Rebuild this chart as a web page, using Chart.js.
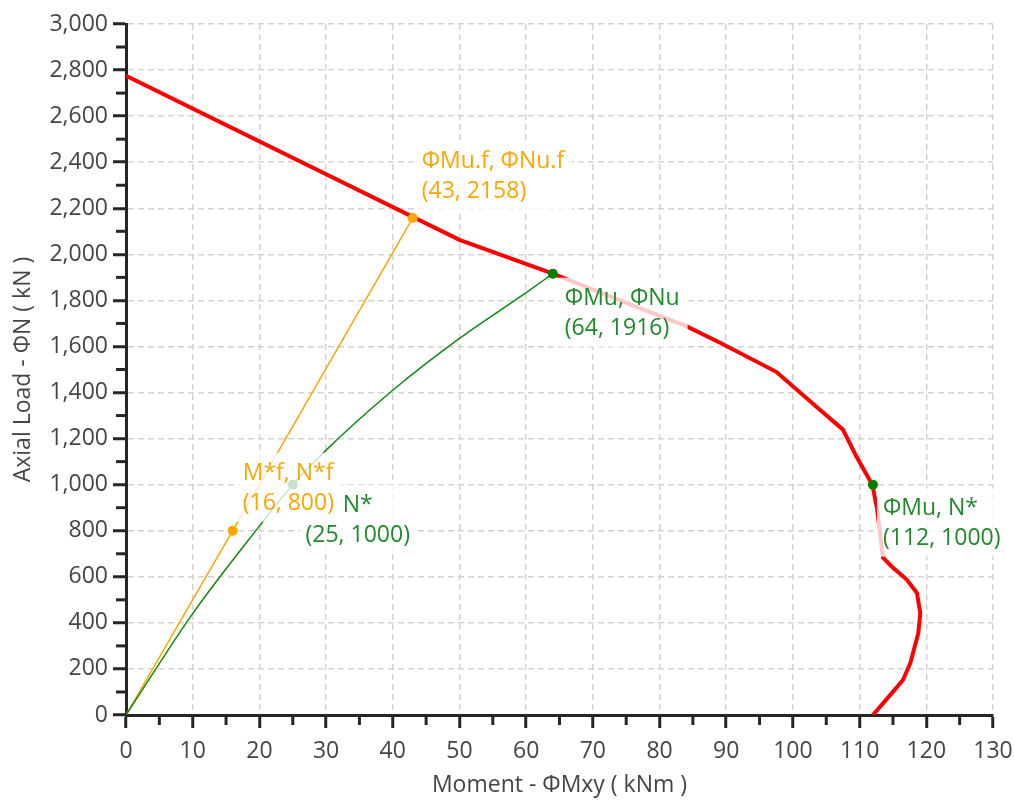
<!DOCTYPE html>
<html><head><meta charset="utf-8">
<script src="https://cdn.jsdelivr.net/npm/chart.js@4.4.1/dist/chart.umd.min.js"></script>
<style>html,body{margin:0;padding:0;background:#fff;}canvas{display:block;}</style>
</head><body>
<canvas id="c" width="1014" height="803"></canvas>
<script>
// Capacity (interaction) curve: moment (kNm) and axial load (kN)
const capacityM = [0, 50, 64, 77, 84, 89, 97.5, 104, 107.5, 109.5, 111.9, 112.6, 113.5, 114.8, 117.1, 118.6, 119.1, 118.8, 117.6, 116.5, 114.8, 112];
const capacityN = [2775, 2063, 1916, 1766, 1688, 1617, 1490, 1326, 1239, 1123, 1000, 899, 683, 645, 587, 529, 442, 355, 225, 152, 94, 0];
// Load path (green)
const loadPathM = [0, 10, 20, 25, 30, 40, 50, 60, 64];
const loadPathN = [0, 440, 820, 1000, 1150, 1410, 1635, 1834, 1916];
// Factored path (orange)
const factoredM = [0, 16, 43];
const factoredN = [0, 800, 2158];
// Marked points
const orangePtM = [16, 43];
const orangePtN = [800, 2158];
const greenPtM = [64, 112, 25];
const greenPtN = [1916, 1000, 1000];
// Annotations
const labelTexts = [['ΦMu.f, ΦNu.f', '(43, 2158)'], ['ΦMu, ΦNu', '(64, 1916)'], ['ΦMu, N*', '(112, 1000)'], ['M*f, N*f', '(16, 800)'], ['N*', '(25, 1000)']];
const labelM = [43, 64, 112, 16, 25];
const labelN = [2158, 1916, 1000, 800, 1000];
// Ticks
const xTickValues = [0, 10, 20, 30, 40, 50, 60, 70, 80, 90, 100, 110, 120, 130];
const yTickValues = [0, 200, 400, 600, 800, 1000, 1200, 1400, 1600, 1800, 2000, 2200, 2400, 2600, 2800, 3000];
const xMinorTicks = [5, 15, 25, 35, 45, 55, 65, 75, 85, 95, 105, 115, 125];
const yMinorTicks = [100, 300, 500, 700, 900, 1100, 1300, 1500, 1700, 1900, 2100, 2300, 2500, 2700, 2900];

const FONT = '"Open Sans", "Noto Sans", sans-serif';
const FS = 23;
const ORANGE = '#ffa500';
const GREEN = '#008000';
const GREEN_TXT = '#1f8a2a';
const AXIS = '#262626';
const TXT = '#454545';

const labelStyle = [
  {dx: 9, dy: -56, align: 'left', color: ORANGE},
  {dx: 12, dy: 25, align: 'left', color: GREEN_TXT},
  {dx: 10, dy: 24, align: 'left', color: GREEN_TXT},
  {dx: 10, dy: -57, align: 'left', color: ORANGE},
  {dx: 65, dy: 21, align: 'center', color: GREEN_TXT}
];

const toXY = (xs, ys) => xs.map((x, i) => ({x: x, y: ys[i]}));

const minorTicksPlugin = {
  id: 'minorTicks',
  afterDraw(chart) {
    const {ctx, scales: {x, y}} = chart;
    ctx.save();
    ctx.strokeStyle = AXIS;
    ctx.lineWidth = 3;
    xMinorTicks.forEach(v => {
      const p = x.getPixelForValue(v);
      ctx.beginPath(); ctx.moveTo(p, x.top); ctx.lineTo(p, x.top + 10); ctx.stroke();
    });
    yMinorTicks.forEach(v => {
      const p = y.getPixelForValue(v);
      ctx.beginPath(); ctx.moveTo(y.right, p); ctx.lineTo(y.right - 10, p); ctx.stroke();
    });
    ctx.restore();
  }
};

const labelPlugin = {
  id: 'pointLabels',
  afterDatasetsDraw(chart) {
    const {ctx, scales: {x, y}} = chart;
    ctx.save();
    ctx.font = FS + 'px ' + FONT;
    const LH = 30;
    const boxes = labelTexts.map((lines, i) => {
      const st = labelStyle[i];
      const px = x.getPixelForValue(labelM[i]);
      const py = y.getPixelForValue(labelN[i]);
      const w = Math.max(...lines.map(t => ctx.measureText(t).width));
      const left = st.align === 'left' ? px + st.dx : px + st.dx - w / 2;
      const c1 = py + st.dy;
      return {lines, st, px, py, w, left, c1};
    });
    ctx.fillStyle = 'rgba(255,255,255,0.78)';
    boxes.forEach(b => {
      ctx.fillRect(b.left - 6, b.c1 - 21, b.w + 14, LH * (b.lines.length - 1) + 39);
    });
    ctx.textBaseline = 'middle';
    boxes.forEach(b => {
      ctx.fillStyle = b.st.color;
      b.lines.forEach((t, j) => {
        if (b.st.align === 'left') {
          ctx.textAlign = 'left';
          ctx.fillText(t, b.left, b.c1 + j * LH);
        } else {
          ctx.textAlign = 'center';
          ctx.fillText(t, b.px + b.st.dx, b.c1 + j * LH);
        }
      });
    });
    ctx.restore();
  }
};

const axisCommon = {
  type: 'linear',
  grid: {color: '#d3d3d3', lineWidth: 1.5, tickColor: AXIS, tickWidth: 3, tickLength: 13, drawTicks: true},
  border: {display: true, color: AXIS, width: 3, dash: [6, 4]},
};

new Chart(document.getElementById('c'), {
  type: 'scatter',
  data: {
    datasets: [
      {label: 'Capacity', data: toXY(capacityM, capacityN), showLine: true, borderColor: '#ff0000', borderWidth: 4, pointRadius: 0, tension: 0, order: 4},
      {label: 'Load path', data: toXY(loadPathM, loadPathN), showLine: true, borderColor: '#0c8a0c', borderWidth: 1.5, pointRadius: 0, cubicInterpolationMode: 'monotone', order: 3},
      {label: 'Factored path', data: toXY(factoredM, factoredN), showLine: true, borderColor: ORANGE, borderWidth: 1.5, pointRadius: 0, tension: 0, order: 3},
      {label: 'Orange points', data: toXY(orangePtM, orangePtN), showLine: false, pointRadius: 5, backgroundColor: ORANGE, borderWidth: 0, order: 1},
      {label: 'Green points', data: toXY(greenPtM, greenPtN), showLine: false, pointRadius: 5, backgroundColor: GREEN, borderWidth: 0, order: 1}
    ]
  },
  options: {
    responsive: false,
    animation: false,
    locale: 'en-US',
    layout: {padding: {top: 24, right: 21, left: 0, bottom: 0}},
    plugins: {legend: {display: false}, tooltip: {enabled: false}},
    scales: {
      x: Object.assign({}, axisCommon, {
        min: 0, max: 130,
        afterBuildTicks: s => { s.ticks = xTickValues.map(v => ({value: v})); },
        afterFit: s => { s.height = 88; s.paddingLeft = 0; s.paddingRight = 0; },
        ticks: {color: TXT, font: {family: FONT, size: FS}, padding: 10, maxRotation: 0, autoSkip: false},
        title: {display: true, text: 'Moment - ΦMxy ( kNm )', color: TXT, font: {family: FONT, size: FS}, padding: {top: 0, bottom: 4}}
      }),
      y: Object.assign({}, axisCommon, {
        min: 0, max: 3000,
        afterBuildTicks: s => { s.ticks = yTickValues.map(v => ({value: v})); },
        afterFit: s => { s.width = 126; s.paddingTop = 0; s.paddingBottom = 0; },
        ticks: {color: TXT, font: {family: FONT, size: FS}, padding: 5, autoSkip: false},
        title: {display: true, text: 'Axial Load - ΦN ( kN )', color: TXT, font: {family: FONT, size: FS}, padding: {top: 10, bottom: 0}}
      })
    }
  },
  plugins: [minorTicksPlugin, labelPlugin]
});
</script>
</body></html>
